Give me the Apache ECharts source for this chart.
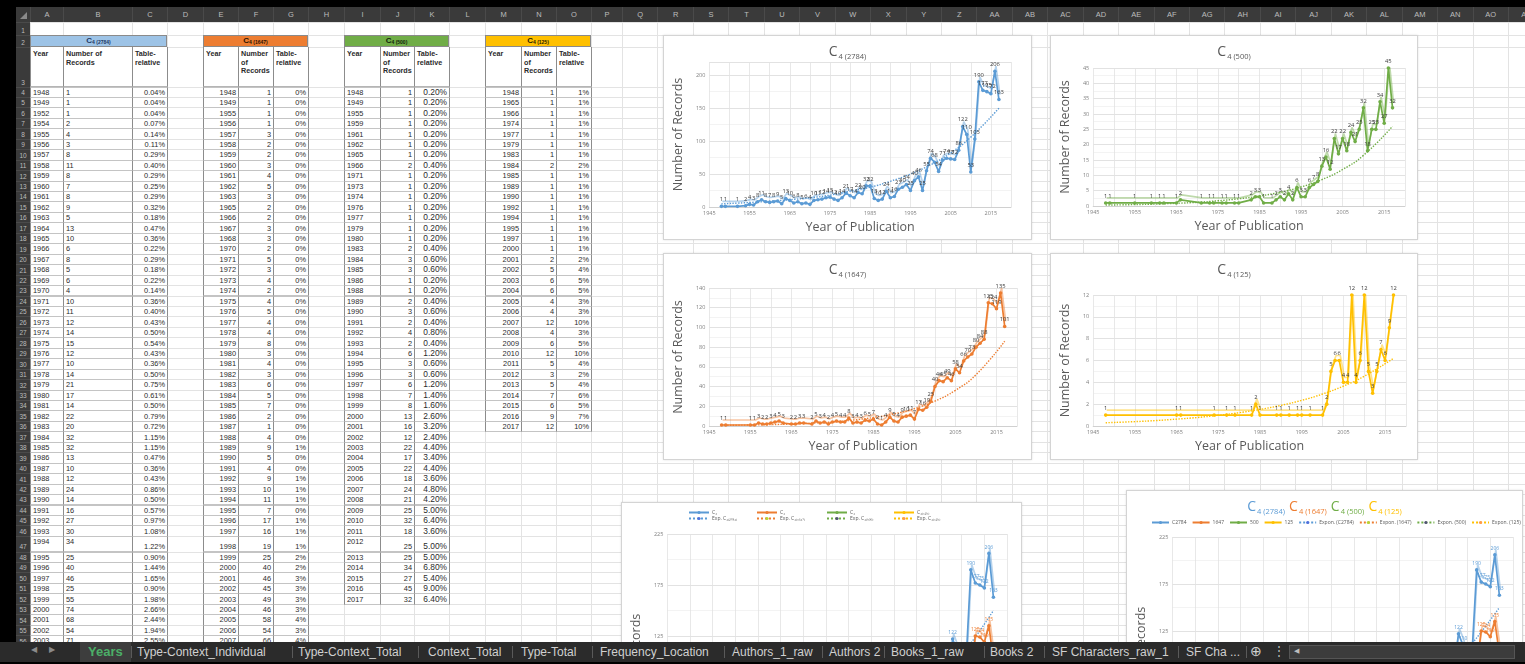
<!DOCTYPE html>
<html>
<head>
<meta charset="utf-8">
<title>Years</title>
<script src="https://cdn.jsdelivr.net/npm/echarts@6/dist/echarts.min.js"></script>
<style>
  html, body { margin: 0; padding: 0; background: #000; }
  body { width: 1525px; height: 664px; position: relative; overflow: hidden;
         font-family: "Liberation Sans", Arial, sans-serif; }
  .abs { position: absolute; }
  #colhdr { left: 16px; top: 7px; width: 1509px; height: 15px; background: #3a3a3a; overflow: hidden; }
  #rowhdr { left: 16px; top: 22px; width: 14px; height: 620px; background: #3a3a3a; overflow: hidden; }
  #cells  { left: 30px; top: 22px; width: 1495px; height: 620px; background: #fff; overflow: hidden; }
  #tabs   { left: 0; top: 642px; width: 1525px; height: 20px; background: #2b2b2b; overflow: hidden; }
  .chartbox { position: absolute; background: #fff; border: 1px solid #d4d4d4; box-sizing: border-box;
              box-shadow: 0 0 2px rgba(0,0,0,0.12); }
</style>
</head>
<body>
<div id="colhdr" class="abs"></div>
<div id="rowhdr" class="abs"></div>
<div id="cells" class="abs"></div>
<div id="tabs" class="abs"></div>

<script>
// ---------------- data ----------------
const years2784 = [1948,1949,1952,1954,1955,1956,1957,1958,1959,1960,1961,1962,1963,1964,1965,1966,1967,1968,1969,1970,
  1971,1972,1973,1974,1975,1976,1977,1978,1979,1980,1981,1982,1983,1984,1985,1986,1987,1988,1989,1990,
  1991,1992,1993,1994,1995,1996,1997,1998,1999,2000,2001,2002,2003,2004,2005,2006,2007,2008,2009,2010,
  2011,2012,2013,2014,2015,2016,2017];
const counts2784 = [1,1,1,2,4,3,8,11,8,7,8,9,5,13,10,6,8,5,6,4,
  10,11,12,14,15,12,10,14,21,17,14,22,20,32,32,13,10,12,24,14,
  16,27,30,34,25,40,46,25,55,74,68,54,71,74,73,72,86,122,110,53,
  103,190,177,175,172,206,163];

const years1647 = [1948,1949,1955,1956,1957,1958,1959,1960,1961,1962,1963,1965,1966,1967,1968,1970,1971,1972,1973,1974,
  1975,1976,1977,1978,1979,1980,1981,1982,1983,1984,1985,1986,1987,1988,1989,1990,1991,1992,1993,1994,
  1995,1996,1997,1998,1999,2000,2001,2002,2003,2004,2005,2006,2007,2008,2009,2010,2011,2012,2013,2014,
  2015,2016,2017];
const counts1647 = [1,1,1,1,3,2,2,3,4,5,3,2,2,3,3,2,5,3,4,2,
  4,5,4,4,8,3,4,3,6,5,7,2,1,4,9,5,4,9,10,11,
  7,17,16,19,25,40,46,45,49,46,58,54,66,70,73,80,84,88,125,124,
  119,135,101];

const years500 = [1948,1949,1955,1959,1961,1962,1965,1966,1971,1973,1974,1976,1977,1979,1980,1983,1984,1985,1986,1988,
  1989,1990,1991,1992,1993,1994,1995,1996,1997,1998,1999,2000,2001,2002,2003,2004,2005,2006,2007,2008,
  2009,2010,2011,2012,2013,2014,2015,2016,2017];
const counts500 = [1,1,1,1,1,1,1,2,1,1,1,1,1,1,1,2,3,3,1,1,
  2,3,2,4,2,6,3,3,6,7,8,13,16,12,22,17,22,18,24,21,
  25,32,18,25,25,34,27,45,32];

const years125 = [1948,1965,1966,1974,1977,1979,1983,1984,1985,1989,1990,1992,1994,1995,1997,2000,2001,2002,2003,2004,
  2005,2006,2007,2008,2009,2010,2011,2012,2013,2014,2015,2016,2017];
const counts125 = [1,1,1,1,1,1,1,2,1,1,1,1,1,1,1,1,2,5,6,6,
  4,4,12,4,6,12,5,3,5,7,6,9,12];

// exponential trend lines, sampled along the fitted curves
const trendYears = [1948,1955,1960,1965,1970,1975,1980,1985,1990,1995,2000,2005,2010,2017];
const trend2784 = [4.8,6.8,8.7,11,14,18,24,30,39,50,64,82,106,150];
const trend1647 = [0.6,1.0,1.4,2.0,2.9,4.2,6.0,8.6,12.3,17.6,25.3,36.2,52,86];
const trend500  = [0.3,0.46,0.64,0.88,1.2,1.7,2.35,3.25,4.5,6.2,8.6,11.9,16.5,26];
const trend125  = [0.3,0.4,0.5,0.63,0.78,0.98,1.22,1.52,1.89,2.35,2.93,3.66,4.56,6.2];

const sheetTabs = ['Years','Type-Context_Individual','Type-Context_Total','Context_Total','Type-Total',
  'Frequency_Location','Authors_1_raw','Authors 2','Books_1_raw','Books 2','SF Characters_raw_1','SF Cha ...'];
const headerLabels = ['Year','Number of Records','Table-relative'];

// ---------------- colours & fonts ----------------
const BLUE = '#5B9BD5', ORANGE = '#ED7D31', GREEN = '#70AD47', GOLD = '#FFC000';
const FONT = '"Open Sans","Liberation Sans",Arial,sans-serif';
const GREY = '#595959';

// ---------------- spreadsheet grid ----------------
function rowTop(r) {
  if (r === 1) return 22;
  if (r === 2) return 34.5;
  if (r === 3) return 47;
  if (r <= 47) return 86.5 + (r - 4) * 10.45;
  return 551.5 + (r - 48) * 10.45;
}
function rowH(r) { return rowTop(r + 1) - rowTop(r); }

const colEdges = [30,63,132,167,203,238,273,308,344,380,414,449,485,521,556,591,622];
for (let k = 1; k <= 27; k++) colEdges.push(622 + k * 35.44);
function colName(i) {
  const A = 'ABCDEFGHIJKLMNOPQRSTUVWXYZ';
  return i < 26 ? A[i] : A[Math.floor(i / 26) - 1] + A[i % 26];
}

// column header letters
(function () {
  let h = '<div style="position:absolute;left:4px;top:5px;width:0;height:0;border-left:7px solid transparent;border-bottom:7px solid #8a8a8a"></div>';
  for (let i = 0; i < colEdges.length - 1; i++) {
    const x0 = colEdges[i] - 16, w = colEdges[i + 1] - colEdges[i];
    h += `<div style="position:absolute;left:${x0}px;top:0;width:${w}px;height:15px;line-height:15px;text-align:center;font-size:7.5px;color:#bdbdbd;border-left:1px solid #4a4a4a;box-sizing:border-box">${colName(i)}</div>`;
  }
  document.getElementById('colhdr').innerHTML = h;
})();

// row numbers
(function () {
  let h = '';
  for (let r = 1; r <= 58; r++) {
    const t = rowTop(r) - 22, hh = rowH(r);
    h += `<div style="position:absolute;left:0;top:${t}px;width:14px;height:${hh}px;display:flex;align-items:flex-end;justify-content:center;font-size:6.5px;line-height:9px;color:#bdbdbd;border-top:1px solid #4a4a4a;box-sizing:border-box">${r}</div>`;
  }
  document.getElementById('rowhdr').innerHTML = h;
})();

let cellsHtml = '';
function put(x, y, w, h, style, content) {
  cellsHtml += `<div style="position:absolute;left:${x - 30}px;top:${y - 22}px;width:${w}px;height:${h}px;${style}">${content || ''}</div>`;
}

// gridlines
for (let r = 1; r <= 58; r++) put(30, rowTop(r), 1495, 1, 'background:#e3e3e3');
colEdges.forEach(x => put(x, 22, 1, 620, 'background:#e3e3e3'));

// ---------------- tables ----------------
function drawTable(t) {
  const e = t.edges, W = e[3] - e[0];
  put(e[0], rowTop(2), W, rowH(2),
    `background:${t.color};border:1px solid #8a8a8a;box-sizing:border-box;text-align:center;font-weight:bold;font-size:8px;line-height:10px;color:${t.titleColor}`,
    `C<span style="font-size:5px;position:relative;top:1.5px">${t.sub}</span>`);
  for (let c = 0; c < 3; c++) {
    put(e[c], rowTop(3), e[c + 1] - e[c] + 1, rowH(3),
      `box-sizing:border-box;border-left:1px solid #8c8c8c;border-right:1px solid #8c8c8c;border-bottom:1px solid #b5b5b5;padding:3px 2px;font-weight:bold;font-size:7.2px;line-height:8.6px;color:#2b2b2b;background:#fff;white-space:normal;overflow:hidden`,
      headerLabels[c]);
  }
  t.years.forEach((yr, i) => {
    const r = 4 + i, top = rowTop(r), h = rowH(r);
    const pct = (t.counts[i] / t.total * 100).toFixed(t.digits) + '%';
    const vals = [yr, t.counts[i], pct];
    for (let c = 0; c < 3; c++) {
      const al = t.align[c] === 'left' ? 'flex-start' : 'flex-end';
      let va = 'center';
      if (r === 47) va = t.tallAlign[c] === 'top' ? 'flex-start' : 'flex-end';
      const fs = (c === 2 && t.bigPct) ? 8.4 : 7.4;
      put(e[c], top, e[c + 1] - e[c] + 1, h + 1,
        `box-sizing:border-box;display:flex;justify-content:${al};align-items:${va};padding:0 2px;border-left:1px solid #8c8c8c;border-right:1px solid #8c8c8c;border-top:1px solid #c4c4c4;border-bottom:1px solid #c4c4c4;background:#fff;font-size:${fs}px;line-height:9px;color:#2b2b2b;white-space:nowrap`,
        vals[c]);
    }
  });
}

drawTable({ edges: [30,63,132,167], color: '#9DC3E6', titleColor: '#1F3864', sub: '4 (2784)',
  years: years2784, counts: counts2784, total: 2784, digits: 2,
  align: ['left','left','right'], tallAlign: ['top','top','bottom'] });
drawTable({ edges: [203,238,273,308], color: ORANGE, titleColor: '#2a1200', sub: '4 (1647)',
  years: years1647, counts: counts1647, total: 1647, digits: 0,
  align: ['right','right','right'], tallAlign: ['bottom','bottom','bottom'] });
drawTable({ edges: [344,380,414,449], color: GREEN, titleColor: '#10240a', sub: '4 (500)',
  years: years500, counts: counts500, total: 500, digits: 2, bigPct: true,
  align: ['left','right','right'], tallAlign: ['top','bottom','bottom'] });
drawTable({ edges: [485,521,556,591], color: GOLD, titleColor: '#2a2000', sub: '4 (125)',
  years: years125, counts: counts125, total: 125, digits: 0,
  align: ['right','right','right'], tallAlign: ['bottom','bottom','bottom'] });

// chart containers (page coordinates)
const boxes = {
  c2784: [663, 35, 369, 205],
  c500:  [1050, 35, 368, 205],
  c1647: [663, 253, 369, 207],
  c125:  [1050, 253, 368, 207],
  all1:  [621, 502, 401, 320],
  all2:  [1126, 490, 397, 320]
};
Object.keys(boxes).forEach(id => {
  const [x, y, w, h] = boxes[id];
  cellsHtml += `<div id="${id}" class="chartbox" style="left:${x - 30}px;top:${y - 22}px;width:${w}px;height:${h}px"></div>`;
});
document.getElementById('cells').innerHTML = cellsHtml;

// ---------------- sheet tabs ----------------
(function () {
  const xs = [88,137,298,428,521,600,732,829,891,990,1052,1186];
  const seps = [131,292,418,512,592,724,822,884,984,1044,1178,1246];
  let h = '<div style="position:absolute;left:31px;top:3px;font-size:8px;color:#8a8a8a">&#9664;</div>' +
          '<div style="position:absolute;left:49px;top:3px;font-size:8px;color:#8a8a8a">&#9654;</div>' +
          '<div style="position:absolute;left:80px;top:0;width:51px;height:20px;background:#3d3d3d"></div>';
  sheetTabs.forEach((name, i) => {
    const active = i === 0;
    h += `<div style="position:absolute;left:${xs[i]}px;top:2px;font-size:${active ? 13 : 12}px;line-height:16px;` +
         `font-weight:${active ? 'bold' : 'normal'};color:${active ? '#4caf68' : '#d0d0d0'};white-space:nowrap">${name}</div>`;
  });
  seps.forEach(x => { h += `<div style="position:absolute;left:${x}px;top:4px;width:1px;height:12px;background:#5a5a5a"></div>`; });
  h += '<div style="position:absolute;left:1250px;top:1px;font-size:14px;color:#d0d0d0">&#8853;</div>' +
       '<div style="position:absolute;left:1273px;top:2px;font-size:12px;color:#bdbdbd">&#8942;</div>' +
       '<div style="position:absolute;left:1289px;top:3px;width:226px;height:14px;background:#3c3c3c;border:1px solid #555;box-sizing:border-box"></div>' +
       '<div style="position:absolute;left:1294px;top:5px;font-size:7px;color:#bdbdbd">&#9664;</div>';
  document.getElementById('tabs').innerHTML = h;
})();

// ---------------- charts ----------------
function pairs(xs, ys) { return xs.map((x, i) => [x, ys[i]]); }
function rgba(hex, a) {
  const n = parseInt(hex.slice(1), 16);
  return `rgba(${n >> 16},${(n >> 8) & 255},${n & 255},${a})`;
}

function xAxis(showName) {
  return {
    type: 'value', min: 1945, max: 2020, interval: 5,
    name: showName ? 'Year of Publication' : '', nameLocation: 'middle', nameGap: 12,
    nameTextStyle: { fontSize: 12.5, color: GREY, fontFamily: FONT },
    axisLine: { show: true, lineStyle: { color: '#d0d0d0' } },
    axisTick: { show: false },
    axisLabel: { fontSize: 5.5, color: '#7f7f7f', margin: 3, fontFamily: FONT,
      formatter: v => ((v - 1945) % 10 === 0 ? String(v) : '') },
    splitLine: { show: true, lineStyle: { color: '#e2e2e2', width: 0.8 } }
  };
}
function yAxis(min, max, interval, nameGap, namePad) {
  return {
    type: 'value', min: min, max: max, interval: interval,
    name: 'Number of Records', nameLocation: 'middle', nameGap: nameGap,
    nameTextStyle: { fontSize: 12.5, color: GREY, fontFamily: FONT, padding: namePad || 0 },
    axisLine: { show: false }, axisTick: { show: false },
    axisLabel: { fontSize: 5.5, color: '#7f7f7f', margin: 4, fontFamily: FONT, showMaxLabel: (max - min) % interval === 0 },
    splitLine: { lineStyle: { color: '#dadada', width: 0.8 } },
    minorTick: { show: false, splitNumber: 2 },
    minorSplitLine: { show: true, lineStyle: { color: '#f0f0f0', width: 0.8 } }
  };
}
function dataSeries(name, color, xs, ys, labelColor, fs) {
  return {
    name: name, type: 'line', data: pairs(xs, ys), z: 3,
    symbol: 'circle', symbolSize: 3.6,
    itemStyle: { color: color },
    lineStyle: { color: color, width: 1.7, shadowColor: rgba(color, 0.45), shadowOffsetY: -5, shadowOffsetX: 1 },
    label: { show: true, position: 'top', distance: 2, fontSize: fs || 5.8, color: labelColor || '#3a3a3a',
      fontFamily: FONT, formatter: p => p.value[1] }
  };
}
function trendSeries(name, color, ys) {
  return {
    name: name, type: 'line', data: pairs(trendYears, ys), smooth: true, z: 2,
    symbol: 'none', silent: true,
    lineStyle: { color: color, width: 1.4, type: 'dotted' }
  };
}
function titleRich(parts, big, small) {
  const rich = {};
  let text = '';
  parts.forEach((p, i) => {
    rich['c' + i] = { fontSize: big, color: p.color, fontFamily: FONT, fontWeight: 'normal' };
    rich['s' + i] = { fontSize: small, color: p.color, fontFamily: FONT, fontWeight: 'normal', padding: [big * 0.6, 0, 0, 1] };
    text += (i ? '{g|  }' : '') + `{c${i}|C}{s${i}|${p.sub}}`;
  });
  rich.g = { fontSize: small };
  return { text: text, rich: rich };
}

function single(id, sub, color, xs, ys, trend, ymax, yint, grid, yGap) {
  const chart = echarts.init(document.getElementById(id), null, { renderer: 'canvas' });
  const t = titleRich([{ sub: sub, color: GREY }], 14, 7.5);
  chart.setOption({
    animation: false,
    title: { text: t.text, left: 'center', top: 3, textStyle: { fontWeight: 'normal', rich: t.rich } },
    grid: grid,
    xAxis: xAxis(true),
    yAxis: yAxis(0, ymax, yint, yGap),
    series: [dataSeries('n', color, xs, ys), trendSeries('t', color, trend)]
  });
}

single('c2784', '4 (2784)', BLUE, years2784, counts2784, trend2784, 220, 50,
  { left: 36, right: 20, top: 26, bottom: 32 }, 18);
single('c500', '4 (500)', GREEN, years500, counts500, trend500, 45, 5,
  { left: 31, right: 12, top: 32, bottom: 33 }, 16);
single('c1647', '4 (1647)', ORANGE, years1647, counts1647, trend1647, 140, 20,
  { left: 30, right: 14, top: 34, bottom: 33 }, 16);
single('c125', '4 (125)', GOLD, years125, counts125, trend125, 12, 2,
  { left: 31, right: 11, top: 41, bottom: 33 }, 16);

// combined charts
function combined(id, grid, legends, title, labelSize) {
  const chart = echarts.init(document.getElementById(id), null, { renderer: 'canvas' });
  chart.setOption({
    animation: false,
    title: title,
    legend: legends,
    grid: grid,
    xAxis: xAxis(false),
    yAxis: yAxis(-25, 225, 50, 14, [0, 18, 0, 0]),
    series: [
      dataSeries('C2784', BLUE, years2784, counts2784, BLUE, labelSize),
      dataSeries('C1647', ORANGE, years1647, counts1647, ORANGE, labelSize),
      dataSeries('C500', GREEN, years500, counts500, GREEN, labelSize),
      dataSeries('C125', GOLD, years125, counts125, GOLD, labelSize),
      trendSeries('E2784', BLUE, trend2784),
      trendSeries('E1647', ORANGE, trend1647),
      trendSeries('E500', GREEN, trend500),
      trendSeries('E125', GOLD, trend125)
    ]
  });
}

const names1 = { C2784: 'C₄', C1647: 'C₄', C500: 'C₄', C125: 'C₄₍₁₂₅₎',
  E2784: 'Exp. C₄₍₂₇₈₄₎', E1647: 'Exp. C₄₍₁₆₄₇₎', E500: 'Exp. C₄₍₅₀₀₎', E125: 'Exp. C₄₍₁₂₅₎' };
const names2 = { C2784: 'C2784', C1647: '1647', C500: '500', C125: '125',
  E2784: 'Expon. (C2784)', E1647: 'Expon. (1647)', E500: 'Expon. (500)', E125: 'Expon. (125)' };

function legendRow(names, keys, top, left, gap, iw) {
  return {
    data: keys, top: top, left: left, itemGap: gap, itemWidth: iw || 20, itemHeight: 4,
    selectedMode: false, padding: 0,
    formatter: n => names[n],
    textStyle: { fontSize: 5, color: '#595959', fontFamily: FONT, padding: [0, 0, 0, -2] }
  };
}

// four-column legend: one legend block per column and row
const legendCols = [66, 134, 204, 271];
const legends1 = [];
['C2784','C1647','C500','C125'].forEach((k, i) => legends1.push(legendRow(names1, [k], 7, legendCols[i], 0)));
['E2784','E1647','E500','E125'].forEach((k, i) => legends1.push(legendRow(names1, [k], 13, legendCols[i], 0)));

combined('all1', { left: 34, right: 14, top: 31, height: 255 }, legends1, { show: false }, 5);

const t2 = titleRich([{ sub: '4 (2784)', color: BLUE }, { sub: '4 (1647)', color: ORANGE },
  { sub: '4 (500)', color: GREEN }, { sub: '4 (125)', color: GOLD }], 14, 7.5);
combined('all2', { left: 36, right: 9, top: 46, height: 235 },
  [legendRow(names2, ['C2784','C1647','C500','C125','E2784','E1647','E500','E125'], 29, 24, 5, 17)],
  { text: t2.text, left: 'center', top: 3, textStyle: { fontWeight: 'normal', rich: t2.rich } }, 5);
</script>
</body>
</html>
